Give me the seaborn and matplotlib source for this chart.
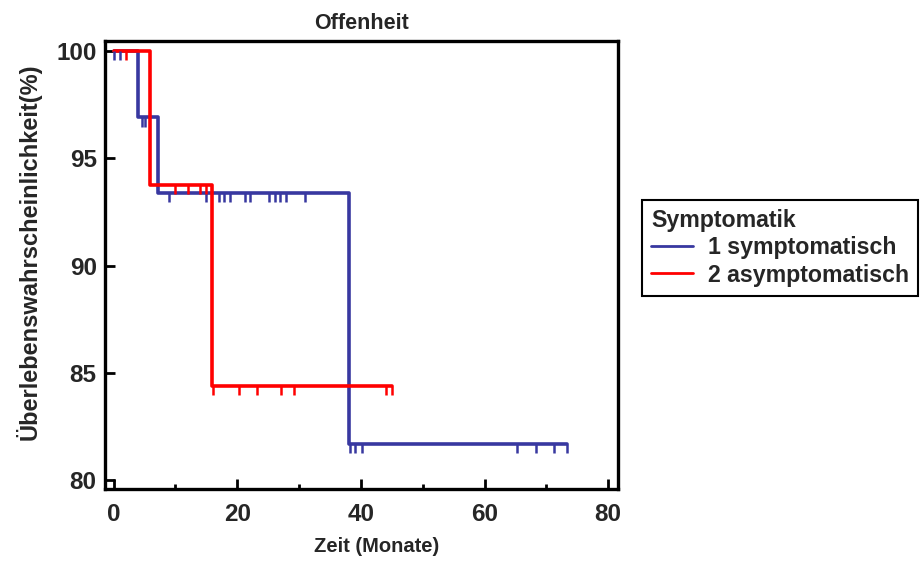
import matplotlib
matplotlib.use("Agg")
import matplotlib.pyplot as plt
import seaborn as sns
import pandas as pd
from matplotlib.ticker import MultipleLocator

# Kaplan-Meier step data (months, survival %)
groups = ["1 symptomatisch", "2 asymptomatisch"]
sym_times = [0.0, 4.0, 7.1, 38.0, 73.3]
sym_surv = [100.0, 96.9, 93.4, 81.7, 81.7]
asym_times = [0.0, 5.9, 15.9, 45.1]
asym_surv = [100.0, 93.75, 84.4, 84.4]

# censored observations (months)
sym_censored = [0.1, 1.0, 4.5, 5.0, 9.0, 14.9, 17.0, 17.9, 18.8, 21.2, 22.1,
                25.2, 26.1, 26.9, 27.9, 31.0, 38.2, 39.1, 40.1, 65.2, 68.3,
                71.2, 73.3]
asym_censored = [2.0, 10.0, 12.0, 14.0, 14.9, 16.1, 20.2, 23.2, 27.1, 29.2,
                 44.0, 45.1]

colors = {"1 symptomatisch": "#3838A0", "2 asymptomatisch": "#FF0000"}

sns.set_theme(style="ticks")
plt.rcParams["font.family"] = ["Liberation Sans", "DejaVu Sans"]
plt.rcParams["font.weight"] = "bold"

df = pd.concat([
    pd.DataFrame({"Zeit": sym_times, "Surv": sym_surv, "Symptomatik": groups[0]}),
    pd.DataFrame({"Zeit": asym_times, "Surv": asym_surv, "Symptomatik": groups[1]}),
], ignore_index=True)

fig = plt.figure(figsize=(9.23, 5.63), dpi=100)
ax = fig.add_axes([0.1138, 0.1314, 0.5558, 0.7957])

sns.lineplot(data=df, x="Zeit", y="Surv", hue="Symptomatik", palette=colors,
             drawstyle="steps-post", estimator=None, sort=False,
             linewidth=2.6, ax=ax, legend=False)


def level_at(times, surv, t):
    val = surv[0]
    for ti, si in zip(times, surv):
        if ti <= t:
            val = si
    return val


tick_len = 0.44
for name, times, surv, cens in [
    (groups[0], sym_times, sym_surv, sym_censored),
    (groups[1], asym_times, asym_surv, asym_censored),
]:
    lv = [level_at(times, surv, c) for c in cens]
    ax.vlines(cens, [v - tick_len for v in lv], lv, color=colors[name],
              linewidth=1.8)

ax.set_xlim(-1.4, 81.6)
ax.set_ylim(79.6, 100.45)
ax.xaxis.set_major_locator(MultipleLocator(20))
ax.xaxis.set_minor_locator(MultipleLocator(10))
ax.yaxis.set_major_locator(MultipleLocator(5))
ax.tick_params(axis="both", which="major", direction="in", length=7, width=2,
               labelsize=17.5, color="black")
ax.tick_params(axis="x", which="major", pad=10)
ax.tick_params(axis="y", which="major", pad=6)
ax.tick_params(axis="x", which="minor", direction="in", length=3.5, width=2,
               color="black")
ax.tick_params(axis="y", which="minor", left=False)
for lab in ax.get_xticklabels() + ax.get_yticklabels():
    lab.set_fontweight("bold")
for sp in ax.spines.values():
    sp.set_visible(True)
    sp.set_linewidth(2.4)
    sp.set_color("black")

ax.set_xlabel("Zeit (Monate)", fontsize=14.5, fontweight="bold")
ax.set_ylabel("Überlebenswahrscheinlichkeit(%)", fontsize=17,
              fontweight="bold")
ax.xaxis.set_label_coords(0.53, -0.108)
ax.yaxis.set_label_coords(-0.124, 0.53)
ax.set_title("Offenheit", fontsize=15.5, fontweight="bold", pad=9)

handles = [plt.Line2D([], [], color=colors[g], linewidth=2) for g in groups]
leg = fig.legend(handles, groups, title="Symptomatik", loc="upper left",
                 bbox_to_anchor=(0.6956, 0.6448), frameon=True, fancybox=False,
                 edgecolor="black", framealpha=1, borderpad=0.4,
                 handlelength=1.8, handletextpad=0.65, labelspacing=0.18,
                 borderaxespad=0, alignment="left",
                 prop={"size": 16.7, "weight": "bold"},
                 title_fontproperties={"size": 16.7, "weight": "bold"})
leg.get_frame().set_linewidth(1.5)

fig.savefig("out.png", dpi=100)
